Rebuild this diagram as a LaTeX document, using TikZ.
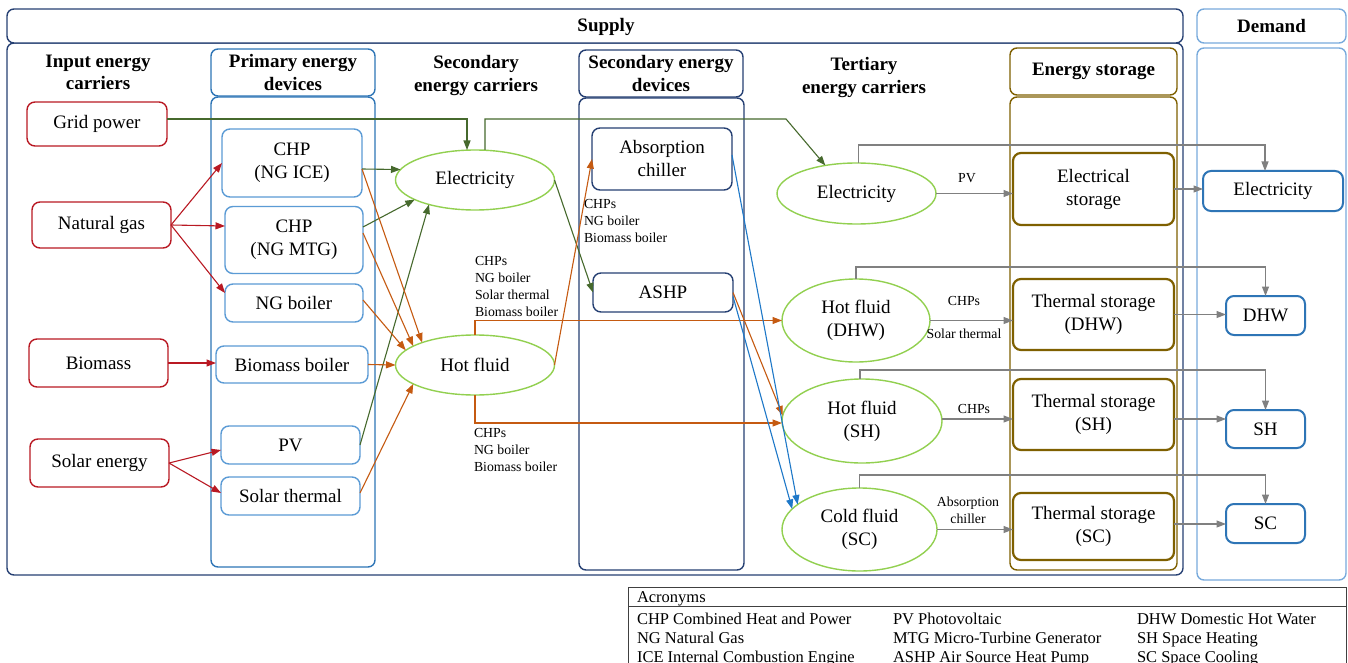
\documentclass[tikz,border=0pt]{standalone}
\usepackage{fontspec}
\setmainfont{Liberation Serif}
\usetikzlibrary{shapes.geometric,arrows.meta,calc}
\definecolor{cred}{RGB}{185,25,35}
\definecolor{clblue}{RGB}{91,155,213}
\definecolor{cmblue}{RGB}{46,117,182}
\definecolor{cnavy}{RGB}{38,64,115}
\definecolor{cgreen}{RGB}{146,208,80}
\definecolor{cdgreen}{RGB}{70,105,45}
\definecolor{corange}{RGB}{197,90,17}
\definecolor{cgray}{RGB}{128,128,128}
\definecolor{colive}{RGB}{127,96,0}
\definecolor{cablue}{RGB}{30,120,200}
\definecolor{cdemand}{RGB}{120,170,220}
\begin{document}
\begin{tikzpicture}[x=1pt,y=-1pt,
  every node/.style={inner sep=0pt,outer sep=0pt},
  sz/.style n args={2}{minimum width=#1pt,minimum height=#2pt},
  fmain/.style={font=\fontsize{19}{23}\selectfont},
  fhead/.style={font=\fontsize{19}{22.5}\selectfont\bfseries},
  fsmall/.style={font=\fontsize{13.8}{17}\selectfont},
  facr/.style={font=\fontsize{16.5}{19}\selectfont},
  rbox/.style={draw,fill=white,rounded corners=8pt,line width=1.4pt,align=center,fmain},
  inbox/.style={rbox,draw=cred},
  pbox/.style={rbox,draw=clblue},
  sbox/.style={rbox,draw=cnavy},
  tbox/.style={rbox,draw=colive,line width=2.2pt},
  dbox/.style={rbox,draw=cmblue,line width=2pt},
  carrier/.style={ellipse,draw=cgreen,line width=1.4pt,fill=white,align=center,fmain},
  colbox/.style={draw,fill=white,rounded corners=7pt,line width=1.4pt,align=center,fhead},
  heading/.style={align=center,fhead},
  lbl/.style={align=left,fsmall,anchor=north west},
  tiplbl/.style={align=center,fsmall},
  acr/.style={facr,anchor=base west},
  conn/.style={line width=1.1pt,-{Triangle[length=9.5pt,width=7pt]}},
  rarr/.style={conn,color=cred},
  garr/.style={conn,color=cdgreen},
  oarr/.style={conn,color=corange},
  barr/.style={conn,color=cablue},
  gyarr/.style={conn,color=cgray}
]
\useasboundingbox (0,0) rectangle (1348,663);

% ---- frames ----
\node[colbox,draw=cnavy,sz={1176}{532}] (supmain) at (595,309) {};
\node[colbox,draw=cnavy,sz={1176}{34},label={[fhead,xshift=11pt,yshift=-1pt]center:Supply}] (suphdr) at (595,26) {};
\node[colbox,draw=cdemand,sz={149}{532}] (demcol) at (1271.5,314) {};
\node[colbox,draw=cdemand,sz={149}{34}] (demhdr) at (1271.5,26) {Demand};
\node[colbox,draw=cmblue,sz={164}{470}] (primcol) at (293,332) {};
\node[colbox,draw=cmblue,sz={164}{47}] (primhdr) at (293,72.5) {Primary energy\\devices};
\node[colbox,draw=cnavy,sz={165}{472}] (sdevcol) at (661.5,334) {};
\node[colbox,draw=cnavy,sz={164}{47}] (sdevhdr) at (661,73.5) {Secondary energy\\devices};
\node[colbox,draw=colive,sz={167}{473}] (storcol) at (1093.5,333.5) {};
\node[colbox,draw=colive,sz={167}{47}] (storhdr) at (1093.5,71.5) {Energy storage};

\node[heading] (h1) at (98,72.5) {Input energy\\carriers};
\node[heading] (h3) at (476,75.5) {Secondary\\energy carriers};
\node[heading] (h5) at (864,77.5) {Tertiary\\energy carriers};

% ---- input carriers ----
\node[inbox,sz={140}{44}] (gp) at (97,124) {Grid power};
\node[inbox,sz={139}{46}] (ng) at (101.5,225) {Natural gas};
\node[inbox,sz={139}{48}] (bm) at (98.5,363) {Biomass};
\node[inbox,sz={139}{48}] (se) at (99.5,463) {Solar energy};

% ---- primary devices ----
\node[pbox,sz={140}{68}] (ice) at (292,163) {CHP\\(NG ICE)};
\node[pbox,sz={138}{67}] (mtg) at (294,240) {CHP\\(NG MTG)};
\node[pbox,sz={138}{38}] (ngb) at (294,303) {NG boiler};
\node[pbox,sz={152}{37}] (bmb) at (292,364.5) {Biomass boiler};
\node[pbox,sz={139}{38}] (pv) at (290.5,445) {PV};
\node[pbox,sz={139}{38}] (st) at (290.5,496) {Solar thermal};

% ---- secondary carriers ----
\node[carrier,sz={159}{60}] (e2) at (475,180) {Electricity};
\node[carrier,sz={159}{60}] (e3) at (475,365) {Hot fluid};

% ---- secondary devices ----
\node[sbox,sz={140}{62}] (absc) at (662,159) {Absorption\\chiller};
\node[sbox,sz={140}{39}] (ashp) at (663,292.5) {ASHP};

% ---- tertiary carriers ----
\node[carrier,sz={159}{61}] (et) at (856.5,193.5) {Electricity};
\node[carrier,sz={148}{83}] (hd) at (856,320.5) {Hot fluid\\(DHW)};
\node[carrier,sz={160}{84}] (hs) at (862,421) {Hot fluid\\(SH)};
\node[carrier,sz={155}{83}] (hc) at (859.5,529.5) {Cold fluid\\(SC)};

% ---- storage ----
\node[tbox,sz={161}{72}] (elst) at (1093.5,189) {Electrical\\storage};
\node[tbox,sz={161}{71}] (tsd) at (1093.5,314.5) {Thermal storage\\(DHW)};
\node[tbox,sz={161}{71}] (tss) at (1093.5,414.5) {Thermal storage\\(SH)};
\node[tbox,sz={161}{67}] (tsc) at (1093.5,526.5) {Thermal storage\\(SC)};

% ---- demand ----
\node[dbox,sz={140}{40}] (de) at (1273,191) {Electricity};
\node[dbox,sz={79}{39}] (dd) at (1265.5,315.5) {DHW};
\node[dbox,sz={79}{38}] (ds) at (1265.5,429) {SH};
\node[dbox,sz={79}{39}] (dc) at (1265.5,523.5) {SC};

% ---- input -> primary ----
\draw[rarr] (ng.east) -- (ice.west);
\draw[rarr] (ng.east) -- ([yshift=14pt]mtg.west);
\draw[rarr] (ng.east) -- ([yshift=10pt]ngb.west);
\draw[rarr] (bm.east) -- (bm.east -| bmb.west);
\draw[rarr] (se.east) -- ([yshift=-5pt]pv.west);
\draw[rarr] (se.east) -- ([yshift=3pt]st.west);

% ---- to secondary electricity ----
\draw[garr] ([yshift=5pt]gp.east) -| ([xshift=-8pt]e2.north);
\draw[garr] ([yshift=-6pt]ice.east) -- (e2.172);
\draw[garr] ([yshift=13pt]mtg.east) -- (e2.198);
\draw[garr] (pv.east) -- (e2.208);

% ---- to secondary hot fluid ----
\draw[oarr] ([yshift=-6pt]ice.east) -- (e3.157);
\draw[oarr] ([yshift=7pt]mtg.east) -- (e3.163);
\draw[oarr] ([yshift=3pt]ngb.east) -- (e3.168);
\draw[oarr] (bmb.east) -- (e3.west);
\draw[oarr] ([yshift=3pt]st.east) -- (e3.197);

% ---- secondary -> devices / tertiary ----
\coordinate (bendA) at (786,119);
\draw[garr] ([xshift=10pt]e2.north) |- (bendA) -- (et.138);
\draw[garr] (e2.east) -- (ashp.west);
\draw[oarr] (e3.east) -- (absc.west);
\draw[oarr] (e3.north) |- (hd.west);
\draw[oarr] (e3.south) |- ([yshift=-2pt]hs.west);
\draw[oarr] (ashp.east) -- (hs.176);
\draw[barr] ([yshift=4pt]absc.east) -- (hc.158);
\draw[barr] ([yshift=-4pt]ashp.east) -- (hc.163);

\node[lbl] (l1) at (475,256.5) {CHPs\\NG boiler\\Solar thermal\\Biomass boiler};
\node[lbl] (l2) at (474,428.5) {CHPs\\NG boiler\\Biomass boiler};
\node[lbl] (l3) at (584,199.5) {CHPs\\NG boiler\\Biomass boiler};

% ---- tertiary -> storage ----
\draw[gyarr] (et.east) -- (et.east -| elst.west);
\draw[gyarr] (hd.east) -- (hd.east -| tsd.west);
\draw[gyarr] ([yshift=2pt]hs.east) -- ([yshift=2pt]hs.east -| tss.west);
\draw[gyarr] (hc.east) -- (hc.east -| tsc.west);
\node[tiplbl] (t1) at (967,178) {PV};
\node[tiplbl] (t2) at (964,301) {CHPs};
\node[tiplbl] (t3) at (964,334) {Solar thermal};
\node[tiplbl] (t4) at (974,409) {CHPs};
\node[tiplbl] (t5) at (968,510) {Absorption\\chiller};

% ---- tertiary -> demand ----
\draw[gyarr] ([xshift=2pt]et.north) -- ++(0,-18) -| ([xshift=-8pt]de.north);
\draw[gyarr] (hd.north) -- ++(0,-12) -| (dd.north);
\draw[gyarr] ([xshift=-2pt]hs.north) -- ++(0,-9) -| (ds.north);
\draw[gyarr] (hc.north) -- ++(0,-13) -| (dc.north);

% ---- storage -> demand ----
\draw[gyarr] (elst.east) -- (elst.east -| de.west);
\draw[gyarr] (tsd.east) -- (tsd.east -| dd.west);
\draw[gyarr] ([yshift=-4.5pt]tss.east) -- ([yshift=-4.5pt]tss.east -| ds.west);
\draw[gyarr] ([yshift=2.5pt]tsc.east) -- ([yshift=2.5pt]tsc.east -| dc.west);

% ---- acronyms ----
\node[draw=black!75,line width=0.9pt,sz={718}{80}] (acrbox) at (987,627) {};
\draw[black!75,line width=0.9pt] ($(acrbox.north west)+(0,19)$) -- ($(acrbox.north east)+(0,19)$);
\node[acr] (a0) at (637,602) {Acronyms};
\node[acr] (a1) at (637,624) {CHP Combined Heat and Power};
\node[acr] (a2) at (637,643) {NG Natural Gas};
\node[acr] (a3) at (637,662) {ICE Internal Combustion Engine};
\node[acr] (a4) at (893,624) {PV Photovoltaic};
\node[acr] (a5) at (893,643) {MTG Micro-Turbine Generator};
\node[acr] (a6) at (893,662) {ASHP Air Source Heat Pump};
\node[acr] (a7) at (1137,624) {DHW Domestic Hot Water};
\node[acr] (a8) at (1137,643) {SH Space Heating};
\node[acr] (a9) at (1137,662) {SC Space Cooling};
\end{tikzpicture}
\end{document}
